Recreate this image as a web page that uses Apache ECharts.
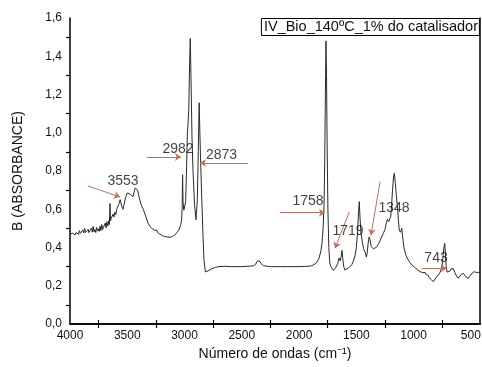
<!DOCTYPE html>
<html>
<head>
<meta charset="utf-8">
<script src="https://cdn.jsdelivr.net/npm/echarts@6/dist/echarts.min.js"></script>
<style>
  html, body { margin: 0; padding: 0; background: #fff; }
  #chart { width: 482px; height: 367px; }
</style>
</head>
<body>
<div id="chart"></div>
<script>
// FTIR spectrum: wavenumber (cm-1) and absorbance
const wavenumber = [
  4000, 3992, 3985, 3978, 3970, 3962, 3955, 3948, 3940, 3932, 3925, 3918, 3910, 3902, 3895, 3888,
  3880, 3872, 3865, 3858, 3850, 3842, 3835, 3828, 3820, 3812, 3805, 3798, 3790, 3782, 3775, 3768,
  3760, 3752, 3745, 3738, 3730, 3722, 3715, 3708, 3700, 3692, 3685, 3678, 3670, 3662, 3656, 3651,
  3646, 3640, 3632, 3624, 3616, 3608, 3600, 3592, 3584, 3575, 3568, 3562, 3556, 3548, 3538, 3528,
  3515, 3500, 3488, 3476, 3462, 3450, 3440, 3430, 3420, 3410, 3395, 3380, 3360, 3340, 3320, 3302,
  3280, 3260, 3245, 3240, 3235, 3215, 3195, 3175, 3150, 3127, 3105, 3085, 3069, 3050, 3035, 3026,
  3021, 3017, 3013, 3006, 2998, 2990, 2982, 2975, 2970, 2967, 2963, 2956, 2950, 2944, 2935, 2926,
  2912, 2900, 2895, 2888, 2880, 2872, 2866, 2858, 2850, 2840, 2830, 2818, 2808, 2795, 2780, 2760,
  2730, 2700, 2650, 2600, 2550, 2500, 2450, 2400, 2380, 2365, 2355, 2345, 2330, 2310, 2280, 2250,
  2200, 2150, 2100, 2050, 2000, 1950, 1900, 1870, 1845, 1825, 1810, 1800, 1790, 1782, 1776, 1770,
  1765, 1760, 1755, 1748, 1740, 1732, 1722, 1710, 1700, 1690, 1680, 1670, 1660, 1652, 1646, 1640,
  1632, 1625, 1618, 1610, 1600, 1585, 1570, 1555, 1540, 1525, 1510, 1500, 1490, 1480, 1474, 1468,
  1460, 1453, 1445, 1437, 1430, 1420, 1412, 1405, 1397, 1388, 1380, 1370, 1360, 1348, 1337, 1320,
  1305, 1293, 1275, 1260, 1250, 1237, 1228, 1218, 1208, 1200, 1192, 1184, 1175, 1168, 1160, 1150,
  1142, 1132, 1125, 1115, 1108, 1102, 1098, 1090, 1084, 1070, 1060, 1046, 1030, 1015, 1003, 990,
  975, 962, 950, 944, 930, 918, 909, 898, 890, 883, 872, 864, 857, 845, 835, 828,
  818, 805, 795, 784, 770, 760, 752, 742, 735, 728, 722, 715, 708, 697, 685, 672,
  662, 653, 640, 625, 610, 598, 588, 578, 566, 555, 545, 535, 522, 508, 495, 480,
  470, 460, 450, 440, 430, 420
];
const absorbance = [
  0.470, 0.478, 0.468, 0.475, 0.470, 0.480, 0.466, 0.478, 0.472, 0.485, 0.470, 0.488, 0.474, 0.482, 0.470, 0.492,
  0.476, 0.500, 0.478, 0.486, 0.474, 0.495, 0.478, 0.488, 0.476, 0.502, 0.480, 0.510, 0.482, 0.494, 0.478, 0.505,
  0.486, 0.498, 0.484, 0.512, 0.488, 0.520, 0.494, 0.505, 0.496, 0.528, 0.502, 0.535, 0.512, 0.540, 0.520, 0.630,
  0.540, 0.552, 0.548, 0.575, 0.560, 0.585, 0.572, 0.600, 0.592, 0.625, 0.615, 0.650, 0.640, 0.615, 0.600, 0.625,
  0.660, 0.685, 0.690, 0.680, 0.670, 0.665, 0.690, 0.712, 0.720, 0.700, 0.660, 0.625, 0.600, 0.565, 0.530, 0.510,
  0.498, 0.490, 0.482, 0.490, 0.478, 0.470, 0.462, 0.458, 0.455, 0.453, 0.458, 0.465, 0.474, 0.490, 0.515, 0.540,
  0.600, 0.780, 0.640, 0.595, 0.587, 0.640, 0.820, 1.000, 1.040, 1.030, 1.120, 1.350, 1.494, 1.300, 0.980, 0.800,
  0.620, 0.545, 0.535, 0.650, 0.900, 1.157, 1.000, 0.820, 0.666, 0.480, 0.335, 0.272, 0.270, 0.278, 0.285, 0.290,
  0.296, 0.300, 0.302, 0.300, 0.300, 0.300, 0.302, 0.304, 0.312, 0.328, 0.335, 0.330, 0.315, 0.305, 0.302, 0.300,
  0.300, 0.300, 0.300, 0.300, 0.300, 0.301, 0.303, 0.310, 0.322, 0.345, 0.380, 0.420, 0.500, 0.620, 0.850, 1.200,
  1.480, 1.300, 0.950, 0.600, 0.400, 0.320, 0.300, 0.292, 0.280, 0.283, 0.295, 0.300, 0.320, 0.345, 0.340, 0.330,
  0.355, 0.385, 0.340, 0.300, 0.282, 0.285, 0.292, 0.300, 0.310, 0.330, 0.360, 0.400, 0.470, 0.590, 0.640, 0.560,
  0.480, 0.455, 0.420, 0.395, 0.388, 0.370, 0.350, 0.372, 0.420, 0.455, 0.440, 0.405, 0.400, 0.392, 0.387, 0.405,
  0.420, 0.435, 0.460, 0.480, 0.495, 0.530, 0.548, 0.535, 0.528, 0.560, 0.620, 0.700, 0.770, 0.788, 0.740, 0.670,
  0.620, 0.540, 0.492, 0.480, 0.490, 0.500, 0.470, 0.430, 0.400, 0.365, 0.350, 0.335, 0.320, 0.308, 0.300, 0.296,
  0.288, 0.282, 0.276, 0.274, 0.280, 0.268, 0.262, 0.270, 0.258, 0.250, 0.255, 0.242, 0.240, 0.232, 0.225, 0.221,
  0.230, 0.242, 0.250, 0.256, 0.268, 0.285, 0.300, 0.360, 0.400, 0.422, 0.370, 0.300, 0.272, 0.265, 0.275, 0.288,
  0.292, 0.290, 0.270, 0.250, 0.239, 0.245, 0.258, 0.265, 0.265, 0.258, 0.248, 0.240, 0.239, 0.250, 0.262, 0.272,
  0.274, 0.272, 0.268, 0.265, 0.270, 0.268
];

// Band annotations (text placed in data coordinates)
const bandNames = ['3553', '2982', '2873', '1758', '1719', '1348', '743'];
const bandTextWn = [3537, 3057, 2677, 1922, 1573, 1171, 804];
const bandTextAbs = [0.748, 0.915, 0.884, 0.640, 0.483, 0.607, 0.345];

// Pointer arrows: start and end in data coordinates
const arrowFromWn = [3843, 3328, 2446, 2166, 1561, 1293, 929];
const arrowFromAbs = [0.722, 0.873, 0.842, 0.582, 0.587, 0.744, 0.291];
const arrowToWn = [3563, 3031, 2865, 1774, 1686, 1372, 711];
const arrowToAbs = [0.664, 0.873, 0.842, 0.582, 0.396, 0.465, 0.291];

// Axis ticks
const xLabelValues = [4000, 3500, 3000, 2500, 2000, 1500, 1000, 500];
const xTickValues = [3750, 3250, 2750, 2250, 1750, 1250, 750];
const yTickValues = [0.1, 0.3, 0.5, 0.7, 0.9, 1.1, 1.3, 1.5];

const sampleTitle = 'IV_Bio_140ºC_1% do catalisador';
const xAxisTitle = 'Número de ondas (cm⁻¹)';
const yAxisTitle = 'B (ABSORBANCE)';

const FONT = "'Liberation Sans', Arial, sans-serif";

const spectrum = wavenumber.map((w, i) => [w, absorbance[i]]);
const bandLabels = bandNames.map((n, i) => ({ name: n, value: [bandTextWn[i], bandTextAbs[i]] }));
const arrows = arrowFromWn.map((w, i) => ({
  coords: [[w, arrowFromAbs[i]], [arrowToWn[i], arrowToAbs[i]]]
}));

const chart = echarts.init(document.getElementById('chart'), null, { renderer: 'canvas' });

const axisLine = { show: true, lineStyle: { color: '#000', width: 1.5 } };

chart.setOption({
  animation: false,
  backgroundColor: '#fff',
  title: {
    text: sampleTitle,
    right: 2,
    top: 18,
    padding: [1, 2, 2, 3],
    borderColor: '#000',
    borderWidth: 1,
    backgroundColor: '#fff',
    textStyle: { fontFamily: FONT, fontSize: 14.5, lineHeight: 15, fontWeight: 'normal', color: '#111' }
  },
  grid: { left: 70, right: 2, top: 18, bottom: 43, containLabel: false, outerBoundsMode: 'none' },
  xAxis: [
    {
      type: 'value',
      position: 'bottom',
      inverse: true,
      min: 420,
      max: 4000,
      splitLine: { show: false },
      axisLine: axisLine,
      axisTick: { show: true, customValues: xTickValues, length: 4, lineStyle: { color: '#000', width: 1.2 } },
      axisLabel: {
        customValues: xLabelValues, margin: 6, fontFamily: FONT, fontSize: 12, color: '#111',
        formatter: v => String(v)
      },
      name: xAxisTitle,
      nameLocation: 'middle',
      nameGap: 23,
      nameTextStyle: { fontFamily: FONT, fontSize: 14, color: '#111' }
    },
    {
      type: 'value',
      position: 'top',
      inverse: true,
      min: 420,
      max: 4000,
      splitLine: { show: false },
      axisLine: axisLine,
      axisTick: { show: true, customValues: xTickValues, length: 4, lineStyle: { color: '#000', width: 1.2 } },
      axisLabel: { show: false }
    }
  ],
  yAxis: [
    {
      type: 'value',
      position: 'left',
      min: 0,
      max: 1.6,
      interval: 0.2,
      splitLine: { show: false },
      axisLine: axisLine,
      axisTick: { show: true, customValues: yTickValues, length: 4, lineStyle: { color: '#000', width: 1.2 } },
      axisLabel: {
        margin: 8,
        fontFamily: FONT,
        fontSize: 12,
        color: '#111',
        formatter: v => v.toFixed(1).replace('.', ',')
      },
      name: yAxisTitle,
      nameLocation: 'middle',
      nameGap: 45,
      nameTextStyle: { fontFamily: FONT, fontSize: 14, color: '#111' }
    },
    {
      type: 'value',
      position: 'right',
      min: 0,
      max: 1.6,
      splitLine: { show: false },
      axisLine: axisLine,
      axisTick: { show: false },
      axisLabel: { show: false }
    }
  ],
  series: [
    {
      type: 'line',
      data: spectrum,
      showSymbol: false,
      lineStyle: { color: '#2a2a2a', width: 1 },
      z: 3
    },
    {
      type: 'lines',
      coordinateSystem: 'cartesian2d',
      data: arrows,
      symbol: ['none', 'arrow'],
      symbolSize: 6,
      lineStyle: { color: '#c4705c', width: 1, opacity: 1, curveness: 0 },
      z: 4
    },
    {
      type: 'scatter',
      data: bandLabels,
      symbolSize: 0,
      label: {
        show: true,
        position: 'inside',
        formatter: '{b}',
        fontFamily: FONT,
        fontSize: 14,
        color: '#111'
      },
      z: 5
    }
  ]
});
</script>
</body>
</html>
